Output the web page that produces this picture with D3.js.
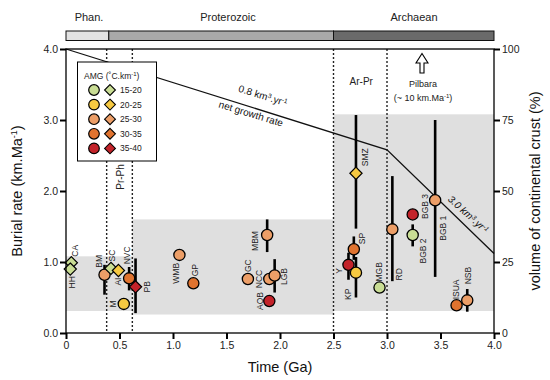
<!DOCTYPE html>
<html><head><meta charset="utf-8">
<script src="https://cdn.jsdelivr.net/npm/d3@7"></script>
<style>body{margin:0;background:#fff}svg{display:block;font-family:"Liberation Sans",Arial,sans-serif}</style>
</head><body><svg width="550" height="380"></svg>
<script>
// ---------- data ----------
const names    = ["CA","HH","BM","SC","AI","NVC","PB","M","WMB","GP","MBM","GC","NCC","LGB","AOB","SMZ","SP","Y","KP","MGB","RD","BGB 3","BGB 2","BGB 1","ISUA","NSB"];
const ages     = [0.05,0.04,0.36,0.42,0.49,0.59,0.65,0.54,1.06,1.19,1.88,1.70,1.90,1.95,1.90,2.71,2.69,2.64,2.71,2.93,3.05,3.24,3.24,3.45,3.65,3.75];
const rates    = [0.99,0.90,0.82,0.91,0.88,0.77,0.65,0.41,1.10,0.70,1.38,0.76,0.76,0.81,0.45,2.25,1.18,0.96,0.85,0.64,1.46,1.67,1.38,1.87,0.39,0.46];
const errLow   = [null,null,0.54,null,null,0.60,0.28,null,null,null,1.14,null,null,0.57,null,1.47,1.03,0.75,0.50,null,0.73,null,1.22,0.79,null,0.30];
const errHigh  = [null,null,0.96,null,null,0.93,1.05,null,null,null,1.60,null,null,1.04,null,3.07,1.36,1.13,1.07,null,2.21,null,1.53,3.00,null,0.62];
const amgClass = [0,0,2,0,1,3,4,1,2,3,2,2,2,2,4,1,3,4,1,0,2,4,0,2,3,2];
const markerType = ["d","d","c","d","d","c","d","c","c","c","c","c","c","c","c","d","c","c","c","c","c","c","c","c","c","c"];

const amgLabels = ["15-20","20-25","25-30","30-35","35-40"];
const amgColors = ["#c9dd94","#f6c941","#ec9e67","#e0732f","#c3232a"];

const timeTicks = [0,0.5,1.0,1.5,2.0,2.5,3.0,3.5,4.0];
const rateTicks = [0,1,2,3,4];
const volTicks  = [0,25,50,75,100];

const growthAges = [0,3.0,4.0];
const growthVol  = [100,64.5,28];

const eonNames = ["Phan.","Proterozoic","Archaean"];
const eonStart = [0,0.4,2.5];
const eonEnd   = [0.4,2.5,4.0];

const boundaryAges = [0.38,0.62,2.5,3.0];

const bandStart = [0,0.62,2.5];
const bandEnd   = [0.62,2.5,4.0];
const bandLow   = [0.31,0.26,0.31];
const bandHigh  = [1.08,1.60,3.08];

// label placement (pixel offsets, rotated labels)
const labelPlace = {
  "CA":[4,-6,"start"],"HH":[2,7,"end"],"BM":[-6,-7,"start"],"SC":[1,-7,"start"],
  "AI":[0,7,"end"],"NVC":[-2,-14,"start"],"PB":[11,0,"middle"],"M":[-11,0,"middle"],
  "WMB":[-3,8,"end"],"GP":[2,-7,"start"],"MBM":[-12,6,"middle"],"GC":[0,-7,"start"],
  "NCC":[-10,0,"middle"],"LGB":[9,1,"middle"],"AOB":[-9,0,"middle"],"SMZ":[9,-7,"start"],
  "SP":[8,-5,"start"],"Y":[-9,6,"middle"],"KP":[-8,16,"end"],"MGB":[-1,-6,"start"],
  "RD":[7,45,"middle"],"BGB 3":[12,-8,"middle"],"BGB 2":[10,16,"middle"],"BGB 1":[8,28,"middle"],
  "ISUA":[-1,-6,"start"],"NSB":[1,-16,"start"]
};

// ---------- layout ----------
const svg = d3.select("svg");
const L = 66, R = 494, T = 49, B = 333;
const x = d3.scaleLinear().domain([0,4]).range([L,R]);
const y = d3.scaleLinear().domain([0,4]).range([B,T]);
const yv = d3.scaleLinear().domain([0,100]).range([B,T]);

// eon bar
const eonG = svg.append("g");
eonNames.forEach((n,i)=>{
  eonG.append("rect").attr("x",x(eonStart[i])).attr("y",31).attr("width",x(eonEnd[i])-x(eonStart[i])).attr("height",9.5)
    .attr("fill",["#e2e2e2","#a9a9a9","#6a6a6a"][i]).attr("stroke","#111").attr("stroke-width",1);
  eonG.append("text").attr("x",[89,228,414][i]).attr("y",21).attr("text-anchor","middle")
    .attr("font-size",11).attr("fill","#222").text(n);
});

// gray bands
bandStart.forEach((s,i)=>{
  svg.append("rect").attr("x",x(s)).attr("y",y(bandHigh[i])).attr("width",x(bandEnd[i])-x(s))
    .attr("height",y(bandLow[i])-y(bandHigh[i])).attr("fill","#dfdfdf");
});

// dashed boundaries
boundaryAges.forEach(a=>{
  svg.append("line").attr("x1",x(a)).attr("x2",x(a)).attr("y1",T).attr("y2",B)
    .attr("stroke","#222").attr("stroke-width",1.4).attr("stroke-dasharray","2,2");
});

// growth line
const gline = d3.line().x((d,i)=>x(growthAges[i])).y((d,i)=>yv(growthVol[i]));
svg.append("path").attr("d",gline(growthAges)).attr("fill","none").attr("stroke","#111").attr("stroke-width",1.3);

// growth text
function rotText(cx,cy,ang,parts,size){
  const t = svg.append("text").attr("transform",`translate(${cx},${cy}) rotate(${ang})`)
    .attr("text-anchor","middle").attr("font-size",size).attr("fill","#111");
  parts.forEach(p=>{
    const ts = t.append("tspan").text(p[0]);
    if(p[1]) ts.attr("baseline-shift","super").attr("font-size",size*0.65);
  });
  return t;
}
rotText(262,99,17,[["0.8 km"],["3",1],[".yr"],["-1",1]],10);
rotText(250,117,17,[["net growth rate"]],10);
rotText(466,217,42,[["3.0 km"],["3",1],[".yr"],["-1",1]],10).attr("font-style","italic");

// error bars
names.forEach((n,i)=>{
  if(errLow[i]!==null){
    svg.append("line").attr("x1",x(ages[i])).attr("x2",x(ages[i])).attr("y1",y(errLow[i])).attr("y2",y(errHigh[i]))
      .attr("stroke","#000").attr("stroke-width",2.6);
  }
});

// markers
const diamond = d3.symbol().type(d3.symbolDiamond2).size(95);
names.forEach((n,i)=>{
  const cx = x(ages[i]), cy = y(rates[i]);
  if(markerType[i]==="c"){
    svg.append("circle").attr("cx",cx).attr("cy",cy).attr("r",5.6)
      .attr("fill",amgColors[amgClass[i]]).attr("stroke","#000").attr("stroke-width",1.3);
  } else {
    svg.append("path").attr("d",diamond()).attr("transform",`translate(${cx},${cy})`)
      .attr("fill",amgColors[amgClass[i]]).attr("stroke","#000").attr("stroke-width",1.2);
  }
});

// point labels
names.forEach((n,i)=>{
  const p = labelPlace[n];
  svg.append("text").attr("transform",`translate(${x(ages[i])+p[0]},${y(rates[i])+p[1]}) rotate(-90)`)
    .attr("text-anchor",p[2]).attr("dominant-baseline","central")
    .attr("font-size",8.5).attr("fill","#222").text(n);
});

// era annotations
svg.append("text").attr("x",(x(2.5)+x(3.0))/2+1).attr("y",85).attr("text-anchor","middle")
  .attr("font-size",10).attr("fill","#222").text("Ar-Pr");
svg.append("path").attr("d","M420,73 L420,63 L416,63 L422,53.5 L428,63 L424,63 L424,73 Z")
  .attr("fill","#fff").attr("stroke","#000").attr("stroke-width",1.1);
svg.append("text").attr("x",423).attr("y",87).attr("text-anchor","middle").attr("font-size",9).attr("fill","#222").text("Pilbara");
const pt = svg.append("text").attr("x",423).attr("y",101).attr("text-anchor","middle").attr("font-size",9).attr("fill","#222");
pt.append("tspan").text("(~ 10 km.Ma");
pt.append("tspan").attr("baseline-shift","super").attr("font-size",6).text("-1");
pt.append("tspan").text(")");

// axes
const axL = svg.append("g").attr("transform",`translate(${L},0)`)
  .call(d3.axisLeft(y).tickValues(rateTicks).tickFormat(d3.format(".1f")).tickSizeOuter(0).tickSize(6));
const axB = svg.append("g").attr("transform",`translate(0,${B})`)
  .call(d3.axisBottom(x).tickValues(timeTicks).tickFormat(d=>d===0?"0":d3.format(".1f")(d)).tickSizeOuter(0).tickSize(6));
const axR = svg.append("g").attr("transform",`translate(${R},0)`)
  .call(d3.axisRight(yv).tickValues(volTicks).tickFormat(d3.format("d")).tickSizeOuter(0).tickSize(6));
[axL,axB,axR].forEach(g=>{
  g.select(".domain").remove();
  g.selectAll(".tick line").attr("stroke","#000").attr("stroke-width",2);
  g.selectAll(".tick text").attr("font-size",10.5).attr("fill","#222").attr("font-family","Liberation Sans, Arial, sans-serif");
});
axL.selectAll(".tick text").attr("x",-8);
axR.selectAll(".tick text").attr("x",8);
axB.selectAll(".tick text").attr("y",9);
svg.append("rect").attr("x",L).attr("y",T).attr("width",R-L).attr("height",B-T)
  .attr("fill","none").attr("stroke","#000").attr("stroke-width",1.3);

// axis titles
const ylt = svg.append("text").attr("transform",`translate(22,${(T+B)/2}) rotate(-90)`).attr("text-anchor","middle")
  .attr("font-size",14.5).attr("fill","#111");
ylt.append("tspan").text("Burial rate (km.Ma");
ylt.append("tspan").attr("baseline-shift","super").attr("font-size",9).text("-1");
ylt.append("tspan").text(")");
svg.append("text").attr("x",(L+R)/2).attr("y",372).attr("text-anchor","middle").attr("font-size",14.5).attr("fill","#111").text("Time (Ga)");
svg.append("text").attr("transform",`translate(540,${(T+B)/2}) rotate(-90)`).attr("text-anchor","middle")
  .attr("font-size",14.5).attr("fill","#111").text("volume of continental crust (%)");

// legend
const lg = svg.append("g");
lg.append("rect").attr("x",77.5).attr("y",62).attr("width",79).attr("height",99)
  .attr("fill","#fff").attr("stroke","#000").attr("stroke-width",1);
const lt = lg.append("text").attr("x",84).attr("y",79).attr("font-size",8.5).attr("fill","#222");
lt.append("tspan").text("AMG (˚C.km");
lt.append("tspan").attr("baseline-shift","super").attr("font-size",6).text("-1");
lt.append("tspan").text(")");
amgLabels.forEach((lab,i)=>{
  const yy = 90 + i*14.6;
  lg.append("circle").attr("cx",94).attr("cy",yy).attr("r",5.3).attr("fill",amgColors[i]).attr("stroke","#000").attr("stroke-width",1.2);
  lg.append("path").attr("d",d3.symbol().type(d3.symbolDiamond2).size(75)()).attr("transform",`translate(110,${yy})`)
    .attr("fill",amgColors[i]).attr("stroke","#000").attr("stroke-width",1.1);
  lg.append("text").attr("x",120).attr("y",yy).attr("dominant-baseline","central").attr("font-size",8.5).attr("fill","#222").text(lab);
});

// Pr-Ph label (below legend, between boundaries)
svg.append("text").attr("transform",`translate(${(x(0.38)+x(0.62))/2+1},177) rotate(-90)`).attr("text-anchor","middle")
  .attr("dominant-baseline","central").attr("font-size",10).attr("fill","#222").text("Pr-Ph");
</script></body></html>
